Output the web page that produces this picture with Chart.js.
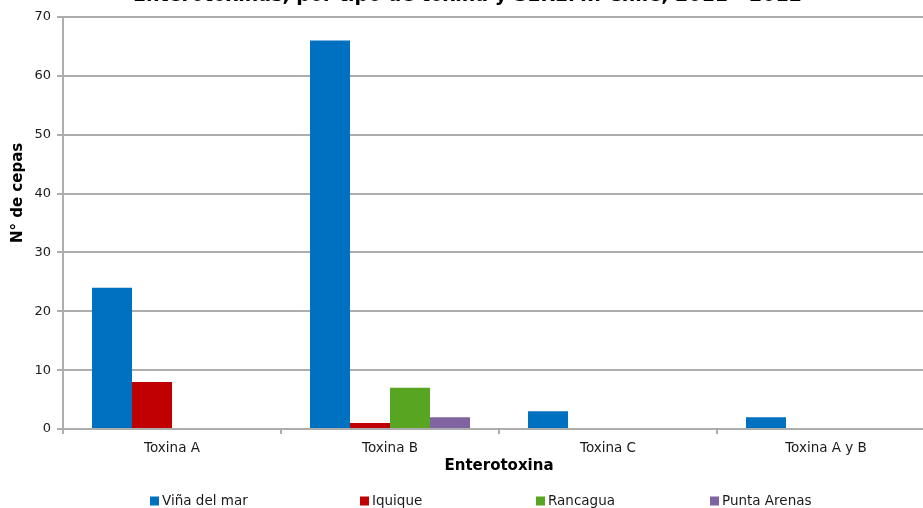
<!DOCTYPE html>
<html lang="es">
<head>
<meta charset="utf-8">
<title>Enterotoxinas por tipo de toxina y SEREMI</title>
<script src="https://cdn.jsdelivr.net/npm/chart.js@4.4.1/dist/chart.umd.min.js"></script>
<style>
  html, body { margin: 0; padding: 0; background: #fff; overflow: hidden; width: 923px; height: 508px; font-family: "DejaVu Sans"; }
  #wrap { position: absolute; left: 0; top: -20px; width: 940px; height: 528px; }
</style>
</head>
<body>
<div id="wrap"><canvas id="chart" width="940" height="528"></canvas></div>
<script>
// Categories and series (strain counts)
const categories = ['Toxina A', 'Toxina B', 'Toxina C', 'Toxina A y B'];
const vinaDelMar = [24, 66, 3, 2];
const iquique = [8, 1, 0, 0];
const rancagua = [0, 7, 0, 0];
const puntaArenas = [0, 2, 0, 0];
const seriesNames = ['Viña del mar', 'Iquique', 'Rancagua', 'Punta Arenas'];
const seriesColors = ['#0070C0', '#C00000', '#57A521', '#8064A2'];
const yTicks = [0, 10, 20, 30, 40, 50, 60, 70];

const chartTitle = 'Enterotoxinas, por tipo de toxina y SEREMI. Chile, 2011 - 2012';
const xTitle = 'Enterotoxina';
const yTitle = 'N° de cepas';

const FONT = '"DejaVu Sans"';
const GRID = '#ADADAD';
const TEXT = '#1a1a1a';

// Rotated y-axis title, placed in the left margin
const yTitlePlugin = {
  id: 'yTitle',
  afterDraw(chart) {
    const ctx = chart.ctx;
    const area = chart.chartArea;
    ctx.save();
    ctx.font = 'bold 15px ' + FONT;
    ctx.fillStyle = '#000';
    ctx.textAlign = 'center';
    ctx.textBaseline = 'middle';
    ctx.translate(18, area.top + (area.bottom - area.top) * 0.427);
    ctx.rotate(-Math.PI / 2);
    ctx.fillText(yTitle, 0, 0);
    ctx.restore();
  }
};

// Legend row below the axis title, one slot per series
const legendPlugin = {
  id: 'rowLegend',
  afterDraw(chart) {
    const ctx = chart.ctx;
    const slots = [150, 360, 536, 710];
    const y = chart.height - 7;
    ctx.save();
    ctx.font = '13.5px ' + FONT;
    ctx.textBaseline = 'middle';
    ctx.textAlign = 'left';
    chart.data.datasets.forEach((ds, i) => {
      ctx.fillStyle = ds.backgroundColor;
      ctx.fillRect(slots[i], y - 4.5, 9, 9);
      ctx.fillStyle = TEXT;
      ctx.fillText(ds.label, slots[i] + 12, y);
    });
    ctx.restore();
  }
};

const seriesData = [vinaDelMar, iquique, rancagua, puntaArenas];

function build() {
  Chart.defaults.font.family = FONT;
  new Chart(document.getElementById('chart'), {
    type: 'bar',
    data: {
      labels: categories,
      datasets: seriesData.map((values, i) => ({
        label: seriesNames[i],
        data: values,
        backgroundColor: seriesColors[i],
        borderWidth: 0,
        categoryPercentage: 0.734,
        barPercentage: 1.0
      }))
    },
    options: {
      responsive: false,
      animation: false,
      devicePixelRatio: 1,
      layout: { padding: { left: 0, right: 5, top: 0, bottom: 29 } },
      plugins: {
        legend: { display: false },
        tooltip: { enabled: false },
        title: {
          display: true,
          text: chartTitle,
          color: '#000',
          font: { family: FONT, size: 19, weight: 'bold', lineHeight: 1.2 },
          padding: { top: 4.6, bottom: 9.6 }
        }
      },
      scales: {
        x: {
          offset: true,
          grid: {
            display: true,
            offset: true,
            drawOnChartArea: false,
            drawTicks: true,
            tickLength: 5,
            color: GRID,
            lineWidth: 2
          },
          border: { display: true, color: GRID, width: 2 },
          ticks: {
            color: TEXT,
            padding: 6,
            font: { family: FONT, size: 13.5 }
          },
          title: {
            display: true,
            text: xTitle,
            color: '#000',
            font: { family: FONT, size: 15, weight: 'bold', lineHeight: 1.2 },
            padding: { top: 3, bottom: 4 }
          },
          afterFit(scale) { scale.height = 50; }
        },
        y: {
          min: 0,
          max: 70,
          afterBuildTicks(scale) { scale.ticks = yTicks.map(v => ({ value: v })); },
          grid: {
            color: GRID,
            lineWidth: 2,
            drawTicks: true,
            tickLength: 6
          },
          border: { display: true, color: GRID, width: 2 },
          ticks: {
            color: TEXT,
            padding: 6,
            font: { family: FONT, size: 13 }
          },
          title: { display: false },
          afterFit(scale) { scale.width = 63; }
        }
      }
    },
    plugins: [yTitlePlugin, legendPlugin]
  });
}

if (document.fonts && document.fonts.load) {
  Promise.all([
    document.fonts.load('13px "DejaVu Sans"'),
    document.fonts.load('bold 13px "DejaVu Sans"')
  ]).then(build, build);
} else {
  build();
}
</script>
</body>
</html>
